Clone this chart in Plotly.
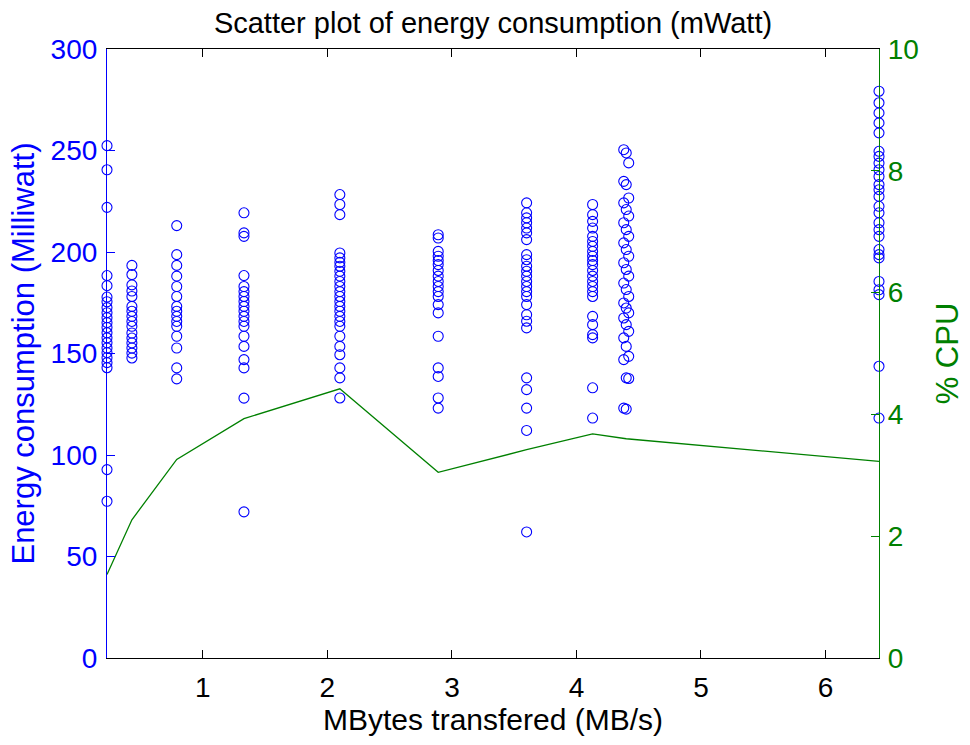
import plotly.graph_objects as go

# Measurement groups: transfer rate (MB/s) and the energy readings taken at each rate
rates = [0.23, 0.43, 0.79, 1.33, 2.10, 2.89, 3.60, 4.13, 4.40, 6.43]

energy_023 = [252.4, 240.5, 222.0, 188.4, 183.4, 177.8, 175.5, 172.6, 170.1, 167.6,
              165.2, 162.8, 160.2, 157.7, 155.3, 152.7, 150.4, 147.9, 145.5, 143.0,
              92.8, 77.2]
energy_043 = [193.4, 188.9, 183.8, 180.8, 178.1, 173.2, 170.8, 168.3, 165.8, 163.4,
              160.1, 157.6, 155.2, 152.7, 150.2, 147.8]
energy_079 = [213.0, 198.7, 193.4, 188.1, 183.0, 178.1, 173.2, 170.8, 168.3, 165.8,
              163.4, 158.5, 152.7, 142.9, 137.5]
energy_133 = [219.3, 209.4, 207.7, 188.4, 183.0, 180.5, 178.1, 175.6, 173.2, 170.8,
              168.3, 165.8, 163.4, 158.5, 153.5, 147.0, 142.9, 128.0, 72.0]
energy_210 = [228.3, 223.4, 218.4, 199.5, 197.1, 194.9, 193.0, 190.5, 188.1, 185.5,
              183.0, 180.5, 178.1, 175.6, 173.2, 170.8, 168.3, 165.8, 163.4, 158.5,
              153.5, 149.4, 142.9, 138.0, 128.1]
energy_289 = [208.5, 206.9, 200.3, 197.9, 195.8, 193.8, 190.9, 188.1, 185.5, 183.0,
              180.5, 178.1, 174.1, 170.0, 158.5, 142.9, 138.7, 128.1, 123.1]
energy_360 = [224.2, 219.3, 216.8, 214.4, 211.8, 209.4, 206.1, 198.7, 196.2, 193.0,
              190.5, 188.1, 185.5, 183.0, 180.5, 178.1, 174.1, 169.1, 165.9, 162.6,
              138.0, 132.2, 123.1, 112.1, 62.1]
energy_413 = [223.4, 218.4, 215.1, 211.8, 207.7, 205.2, 202.8, 200.3, 197.9, 195.8,
              193.8, 190.9, 188.1, 185.5, 183.0, 180.5, 178.1, 168.3, 164.2, 159.3,
              157.7, 133.1, 118.2]
energy_440 = [250.4, 248.8, 243.9, 234.8, 233.2, 226.6, 224.2, 220.9, 217.7, 214.4,
              211.0, 207.7, 204.5, 201.2, 197.9, 194.7, 191.4, 188.1, 184.7, 181.5,
              178.1, 174.9, 172.4, 170.0, 167.5, 164.2, 160.9, 157.7, 153.5, 148.6,
              147.0, 138.0, 137.7, 123.1, 122.6]
energy_643 = [279.2, 273.5, 268.5, 263.6, 258.7, 249.6, 247.1, 243.8, 240.5, 237.2,
              233.2, 230.7, 227.4, 222.5, 219.3, 214.4, 211.0, 207.7, 201.2, 198.7,
              197.1, 185.5, 181.4, 179.0, 143.7, 118.2]

# Small horizontal spread used for the dense group at 4.4 MB/s
spread_440 = [-0.02, 0.0, 0.02]

# Mean CPU load (%) at each transfer rate
cpu_percent = [1.37, 2.27, 3.26, 3.93, 4.42, 3.05, 3.42, 3.68, 3.60, 3.23]

x_ticks = [1, 2, 3, 4, 5, 6]
y_ticks = [0, 50, 100, 150, 200, 250, 300]
y2_ticks = [0, 2, 4, 6, 8, 10]

BLUE = "#0000FF"
GREEN = "#008000"
FONT = "Liberation Sans"

groups = [energy_023, energy_043, energy_079, energy_133, energy_210,
          energy_289, energy_360, energy_413, energy_440, energy_643]

xs, ys = [], []
for rate, vals in zip(rates, groups):
    for i, v in enumerate(vals):
        dx = spread_440[i % 3] if rate == 4.40 else 0.0
        xs.append(rate + dx)
        ys.append(v)

fig = go.Figure()
fig.add_trace(go.Scatter(
    x=xs, y=ys, mode="markers", cliponaxis=False,
    marker=dict(symbol="circle-open", size=10, color=BLUE, line=dict(width=1.1, color=BLUE)),
    showlegend=False,
))
fig.add_trace(go.Scatter(
    x=rates, y=cpu_percent, mode="lines", yaxis="y2",
    line=dict(color=GREEN, width=1.3), showlegend=False,
))

fig.update_layout(
    width=970, height=745,
    margin=dict(l=107, r=91, t=49, b=87),
    paper_bgcolor="white", plot_bgcolor="white",
    font=dict(family=FONT, size=28, color="black"),
    title=dict(text="Scatter plot of energy consumption (mWatt)", x=0.5, xref="paper",
               xanchor="center", y=0.970, yref="container", yanchor="middle",
               font=dict(family=FONT, size=29, color="black")),
    xaxis=dict(
        range=[0.23, 6.43], tickvals=x_ticks, ticks="inside", ticklen=8, tickcolor="black",
        showline=True, linecolor="black", linewidth=1.2, mirror="ticks",
        showgrid=False, zeroline=False, ticklabelstandoff=4,
        tickfont=dict(family=FONT, size=28, color="black"),
        title=dict(text="MBytes transfered (MB/s)", standoff=6,
                   font=dict(family=FONT, size=30, color="black")),
    ),
    yaxis=dict(
        range=[0, 300], tickvals=y_ticks, ticks="inside", ticklen=8, tickcolor=BLUE,
        showline=True, linecolor=BLUE, linewidth=1.2,
        showgrid=False, zeroline=False, ticklabelstandoff=3,
        tickfont=dict(family=FONT, size=28, color=BLUE),
        title=dict(text="Energy consumption (Milliwatt)", standoff=6,
                   font=dict(family=FONT, size=31, color=BLUE)),
    ),
    yaxis2=dict(
        range=[0, 10], tickvals=y2_ticks, ticks="inside", ticklen=8, tickcolor=GREEN,
        overlaying="y", side="right", anchor="x",
        showline=True, linecolor=GREEN, linewidth=1.2,
        showgrid=False, zeroline=False, ticklabelstandoff=2,
        tickfont=dict(family=FONT, size=28, color=GREEN),
        title=dict(text="% CPU", standoff=18,
                   font=dict(family=FONT, size=31, color=GREEN)),
    ),
)

fig.write_html("out.html")
